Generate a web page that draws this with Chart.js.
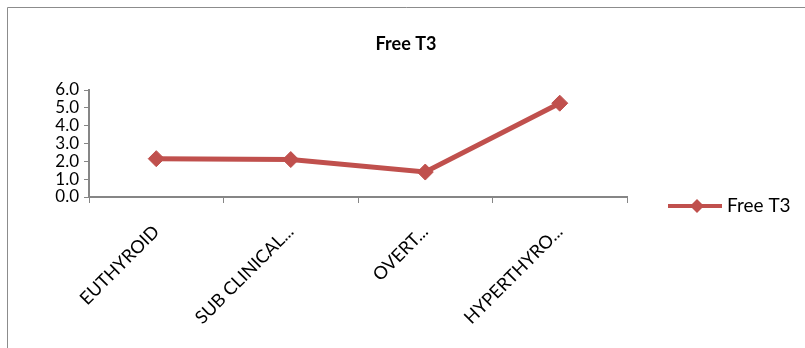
<!DOCTYPE html>
<html>
<head>
<meta charset="utf-8">
<script src="https://cdn.jsdelivr.net/npm/chart.js@4/dist/chart.umd.min.js"></script>
<style>
  html, body { margin: 0; padding: 0; background: #ffffff; }
  #wrap { position: relative; width: 805px; height: 348px; }
</style>
</head>
<body>
<div id="wrap"><canvas id="c" width="805" height="348"></canvas></div>
<script>
// Thyroid status groups (labels as shown, truncated on the axis)
const categories = ['EUTHYROID', 'SUB CLINICAL...', 'OVERT...', 'HYPERTHYRO...'];
// Mean Free T3 per group
const freeT3 = [2.15, 2.10, 1.40, 5.26];
// Value axis
const yTicks = [0, 1, 2, 3, 4, 5, 6];

const chartTitle = 'Free T3';
const seriesName = 'Free T3';
const red = '#C0504D';
const axisGrey = '#868686';
const fontFamily = 'Lato, "Open Sans", sans-serif';

// Outer frame, centred title and the line+marker legend on the right
const decorations = {
  id: 'decorations',
  beforeDraw(chart) {
    const ctx = chart.ctx;
    ctx.save();
    ctx.fillStyle = '#ffffff';
    ctx.fillRect(0, 0, chart.width, chart.height);
    ctx.strokeStyle = '#8c8c8c';
    ctx.lineWidth = 1;
    ctx.beginPath();
    ctx.moveTo(7.5, chart.height + 2);
    ctx.lineTo(7.5, 7.5);
    ctx.lineTo(chart.width + 2, 7.5);
    ctx.stroke();
    ctx.fillStyle = '#000000';
    ctx.font = 'bold 18px ' + fontFamily;
    ctx.textAlign = 'center';
    ctx.textBaseline = 'middle';
    ctx.fillText(chartTitle, 406, 44);
    ctx.restore();
  },
  afterDraw(chart) {
    const ctx = chart.ctx;
    const ds = chart.data.datasets[0];
    const x0 = chart.chartArea.right + 41;
    const y = 206;
    ctx.save();
    ctx.strokeStyle = ds.borderColor;
    ctx.lineWidth = 4;
    ctx.beginPath();
    ctx.moveTo(x0, y);
    ctx.lineTo(x0 + 54, y);
    ctx.stroke();
    ctx.fillStyle = ds.pointBackgroundColor;
    ctx.beginPath();
    ctx.moveTo(x0 + 29, y - 7);
    ctx.lineTo(x0 + 36, y);
    ctx.lineTo(x0 + 29, y + 7);
    ctx.lineTo(x0 + 22, y);
    ctx.closePath();
    ctx.fill();
    ctx.fillStyle = '#000000';
    ctx.font = '19px ' + fontFamily;
    ctx.textAlign = 'left';
    ctx.textBaseline = 'middle';
    ctx.fillText(ds.label, x0 + 59, y);
    ctx.restore();
  }
};

new Chart(document.getElementById('c'), {
  type: 'line',
  data: {
    labels: categories,
    datasets: [{
      label: seriesName,
      data: freeT3,
      borderColor: red,
      backgroundColor: red,
      borderWidth: 5,
      pointStyle: 'rectRot',
      pointRadius: 8,
      pointHoverRadius: 8,
      pointBackgroundColor: red,
      pointBorderColor: red,
      pointBorderWidth: 1,
      tension: 0,
      fill: false
    }]
  },
  options: {
    responsive: false,
    animation: false,
    devicePixelRatio: 1,
    layout: { padding: { left: 0, right: 178, top: 90, bottom: 0 } },
    plugins: {
      legend: { display: false },
      tooltip: { enabled: false },
      title: { display: false }
    },
    scales: {
      x: {
        type: 'category',
        offset: true,
        grid: {
          offset: true,
          drawOnChartArea: false,
          drawTicks: true,
          tickLength: 6,
          color: axisGrey,
          lineWidth: 1
        },
        border: { display: true, color: axisGrey, width: 2 },
        ticks: {
          color: '#000000',
          font: { family: fontFamily, size: 18 },
          minRotation: 45,
          maxRotation: 45,
          autoSkip: false,
          padding: 18
        },
        afterFit(scale) { scale.height = 151; }
      },
      y: {
        min: 0,
        max: 6,
        afterBuildTicks(scale) { scale.ticks = yTicks.map(v => ({ value: v })); },
        grid: {
          drawOnChartArea: false,
          drawTicks: true,
          tickLength: 5,
          color: axisGrey,
          lineWidth: 1
        },
        border: { display: true, color: axisGrey, width: 2 },
        ticks: {
          color: '#000000',
          font: { family: fontFamily, size: 17 },
          padding: 5,
          autoSkip: false,
          callback: v => Number(v).toFixed(1)
        },
        afterFit(scale) { scale.width = 89; }
      }
    }
  },
  plugins: [decorations]
});
</script>
</body>
</html>
